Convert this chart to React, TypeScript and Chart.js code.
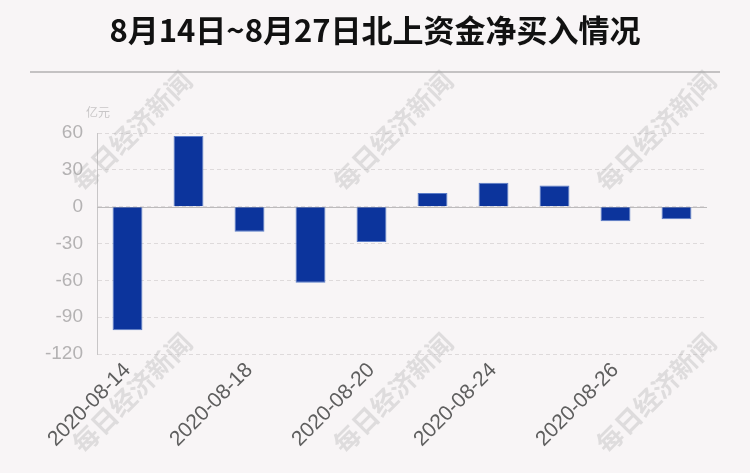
import React, { useEffect, useRef } from 'react';
import { Chart, registerables } from 'chart.js';

Chart.register(...registerables);

const TITLE = '8月14日~8月27日北上资金净买入情况';
const UNIT = '亿元';
const WATERMARK = '每日经济新闻';

const categories = [
  '2020-08-14', '2020-08-17', '2020-08-18', '2020-08-19', '2020-08-20',
  '2020-08-21', '2020-08-24', '2020-08-25', '2020-08-26', '2020-08-27',
];
const netBuy = [-100.6, 57.5, -20.5, -62.0, -28.8, 11.2, 19.4, 17.2, -11.8, -10.2];
const yTickValues = [60, 30, 0, -30, -60, -90, -120];

const BG = '#f8f5f6';

const decorPlugin = {
  id: 'decor',
  beforeDraw(chart: any) {
    const { ctx, width, height } = chart;
    ctx.save();
    ctx.fillStyle = BG;
    ctx.fillRect(0, 0, width, height);
    // title
    ctx.fillStyle = '#111';
    ctx.font = 'bold 31px "Noto Sans CJK SC", sans-serif';
    ctx.textAlign = 'center';
    ctx.textBaseline = 'middle';
    ctx.fillText(TITLE, width / 2, 30);
    // separator
    ctx.strokeStyle = '#c4c2c3';
    ctx.lineWidth = 2;
    ctx.beginPath();
    ctx.moveTo(30, 72);
    ctx.lineTo(720, 72);
    ctx.stroke();
    // unit
    ctx.fillStyle = '#c8c6c7';
    ctx.font = '12px "Noto Sans CJK SC", sans-serif';
    ctx.textAlign = 'center';
    ctx.fillText(UNIT, 98, 112);
    ctx.restore();
  },
  beforeDatasetsDraw(chart: any) {
    const { ctx, chartArea, scales } = chart;
    const y0 = scales.y.getPixelForValue(0);
    ctx.save();
    ctx.strokeStyle = '#bdbbbc';
    ctx.lineWidth = 1;
    ctx.beginPath();
    ctx.moveTo(chartArea.left, Math.round(y0) + 0.5);
    ctx.lineTo(chartArea.right, Math.round(y0) + 0.5);
    ctx.stroke();
    ctx.restore();
  },
  afterDraw(chart: any) {
    const { ctx } = chart;
    const centers = [
      [132, 131], [393, 131], [656, 131],
      [132, 393], [393, 393], [656, 393],
    ];
    ctx.save();
    ctx.fillStyle = 'rgba(170,170,170,0.33)';
    ctx.font = 'bold 26px "Noto Sans CJK SC", sans-serif';
    ctx.textAlign = 'center';
    ctx.textBaseline = 'middle';
    for (const [cx, cy] of centers) {
      ctx.save();
      ctx.translate(cx, cy);
      ctx.rotate(-Math.PI / 4);
      ctx.fillText(WATERMARK, 0, 0);
      ctx.restore();
    }
    ctx.restore();
  },
};

export default function App() {
  const ref = useRef<HTMLCanvasElement>(null);
  useEffect(() => {
    document.body.style.margin = '0';
    document.body.style.background = BG;
    const chart = new Chart(ref.current!, {
      type: 'bar',
      data: {
        labels: categories,
        datasets: [
          {
            data: netBuy,
            backgroundColor: '#0c349c',
            borderColor: '#5a7cc8',
            borderWidth: 1,
            categoryPercentage: 1,
            barPercentage: 0.49,
          },
        ],
      },
      options: {
        responsive: false,
        animation: false,
        layout: { padding: { top: 133, right: 43, left: 0, bottom: 0 } },
        plugins: {
          legend: { display: false },
          tooltip: { enabled: false },
          title: { display: false },
        },
        scales: {
          x: {
            grid: { display: false, drawTicks: false },
            border: { display: false },
            afterFit: (s: any) => { s.height = 119; },
            ticks: {
              autoSkip: false,
              maxRotation: 45,
              minRotation: 45,
              padding: 4,
              color: '#5e5e5e',
              font: { size: 21, family: '"Liberation Sans", Arial, sans-serif' },
              callback: (_v: any, i: number) => (i % 2 === 0 ? categories[i] : ''),
            },
          },
          y: {
            min: -120,
            max: 60,
            afterFit: (s: any) => { s.width = 97; },
            afterBuildTicks: (s: any) => { s.ticks = yTickValues.map((v) => ({ value: v })); },
            grid: { color: '#dedadb', drawTicks: false, lineWidth: 1 },
            border: { display: true, color: '#c8c6c7', dash: [4, 3] },
            ticks: {
              padding: 14,
              color: '#b4b2b3',
              font: { size: 19, family: '"Liberation Sans", Arial, sans-serif' },
            },
          },
        },
      },
      plugins: [decorPlugin],
    });
    return () => chart.destroy();
  }, []);
  return <canvas ref={ref} width={750} height={473} style={{ display: 'block' }} />;
}
